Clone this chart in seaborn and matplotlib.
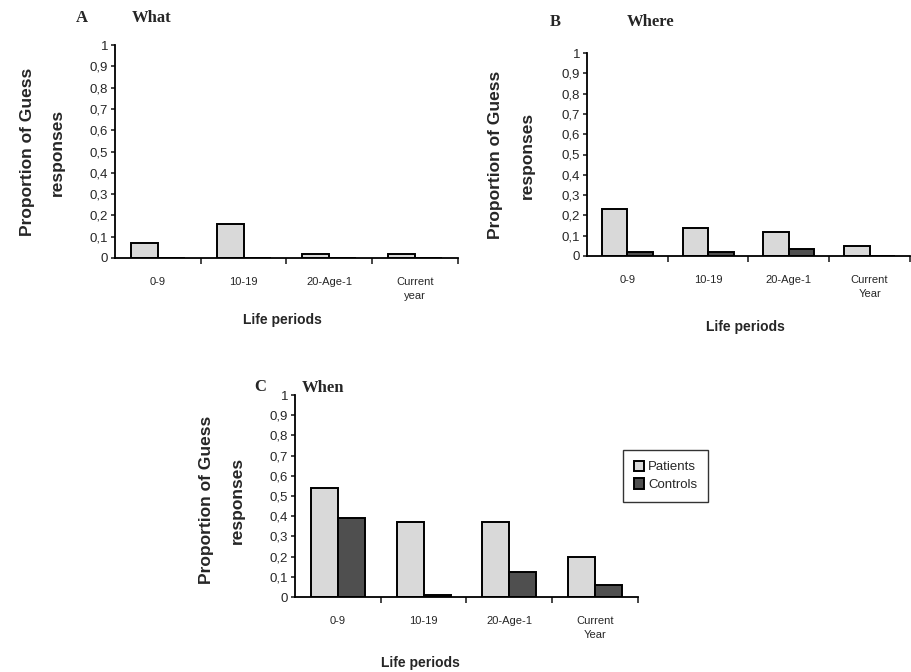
import pandas as pd
import numpy as np
import seaborn as sns
import matplotlib.pyplot as plt

# ------------------ Data ------------------
periods = ["0-9", "10-19", "20-Age-1", "Current year"]
groups = ["Patients", "Controls"]

what_patients = [0.07, 0.16, 0.02, 0.02]
what_controls = [0.0, 0.0, 0.0, 0.0]

where_patients = [0.23, 0.14, 0.12, 0.05]
where_controls = [0.02, 0.02, 0.035, 0.0]

when_patients = [0.54, 0.37, 0.37, 0.20]
when_controls = [0.39, 0.01, 0.125, 0.06]

tick_labels_a = ["0-9", "10-19", "20-Age-1", "Current\nyear"]
tick_labels_bc = ["0-9", "10-19", "20-Age-1", "Current\nYear"]
ytick_vals = [0, 0.1, 0.2, 0.3, 0.4, 0.5, 0.6, 0.7, 0.8, 0.9, 1]
ytick_text = ["0", "0,1", "0,2", "0,3", "0,4", "0,5", "0,6", "0,7", "0,8", "0,9", "1"]


def long_df(pat, con):
    return pd.DataFrame({
        "period": periods * 2,
        "group": ["Patients"] * 4 + ["Controls"] * 4,
        "value": list(pat) + list(con),
    })


sns.set_style("white")
plt.rcParams["font.family"] = ["Liberation Sans", "DejaVu Sans"]

W, H = 912, 672
fig = plt.figure(figsize=(9.12, 6.72), dpi=100)


def px_axes(x0, x1, ytop, ybot):
    return fig.add_axes([x0 / W, 1 - ybot / H, (x1 - x0) / W, (ybot - ytop) / H])


palette = {"Patients": "#d9d9d9", "Controls": "#4f4f4f"}


def draw_panel(ax, pat, con, xt):
    sns.barplot(data=long_df(pat, con), x="period", y="value", hue="group",
                hue_order=groups, order=periods, palette=palette,
                width=0.63, gap=0, edgecolor="black", linewidth=1.4,
                errorbar=None, ax=ax, legend=True)
    ax.set_xlim(-0.5, 3.5)
    ax.set_ylim(0, 1)
    ax.set_yticks(ytick_vals)
    ax.set_yticklabels(ytick_text, fontsize=9.5)
    ax.set_xticks(range(4))
    ax.set_xticklabels(xt, fontsize=8, linespacing=1.5)
    ax.set_xticks([0.5, 1.5, 2.5, 3.5], minor=True)
    ax.tick_params(axis="x", which="major", length=0, pad=14)
    ax.tick_params(axis="x", which="minor", length=4, width=1.2, direction="out", bottom=True)
    ax.tick_params(axis="y", length=3, width=1.2, direction="out", left=True, pad=2)
    ax.set_xlabel("")
    ax.set_ylabel("")
    sns.despine(ax=ax)
    for s in ["left", "bottom"]:
        ax.spines[s].set_linewidth(1.3)
        ax.spines[s].set_color("black")


ax_a = px_axes(115, 458, 45, 258)
ax_b = px_axes(587, 910, 53, 256)
ax_c = px_axes(295, 638, 395, 597)

draw_panel(ax_a, what_patients, what_controls, tick_labels_a)
draw_panel(ax_b, where_patients, where_controls, tick_labels_bc)
draw_panel(ax_c, when_patients, when_controls, tick_labels_bc)

ax_a.get_legend().remove()
ax_b.get_legend().remove()
ax_c.get_legend().remove()
handles, labels = ax_c.get_legend_handles_labels()
leg = fig.legend(handles, labels, loc="upper left",
                 bbox_to_anchor=(623 / W, 1 - 450 / H), frameon=True,
                 fancybox=False, edgecolor="black", fontsize=9.5,
                 handlelength=0.8, handleheight=0.8, handletextpad=0.3,
                 borderpad=0.8, labelspacing=0.4, borderaxespad=0)
leg.get_frame().set_linewidth(1.0)


def ftext(x, y, s, **kw):
    fig.text(x / W, 1 - y / H, s, ha="center", va="center", **kw)


serif = dict(family=["Liberation Serif", "DejaVu Serif"], fontweight="bold", fontsize=12)
ylab = dict(fontweight="bold", fontsize=12.5, rotation=90)
xlab = dict(fontweight="bold", fontsize=10)

# panel titles
ftext(82, 18, "A", **serif)
ftext(152, 18, "What", **serif)
ftext(555, 22, "B", **serif)
ftext(651, 22, "Where", **serif)
ftext(260, 387, "C", **serif)
ftext(323, 388, "When", **serif)

# y labels
ftext(28, 152, "Proportion of Guess", **ylab)
ftext(57, 152, "responses", **ylab)
ftext(496, 155, "Proportion of Guess", **ylab)
ftext(527, 155, "responses", **ylab)
ftext(207, 500, "Proportion of Guess", **ylab)
ftext(237, 500, "responses", **ylab)

# x labels
ftext(282, 320, "Life periods", **xlab)
ftext(745, 327, "Life periods", **xlab)
ftext(420, 663, "Life periods", **xlab)

fig.savefig("out.png", dpi=100)
